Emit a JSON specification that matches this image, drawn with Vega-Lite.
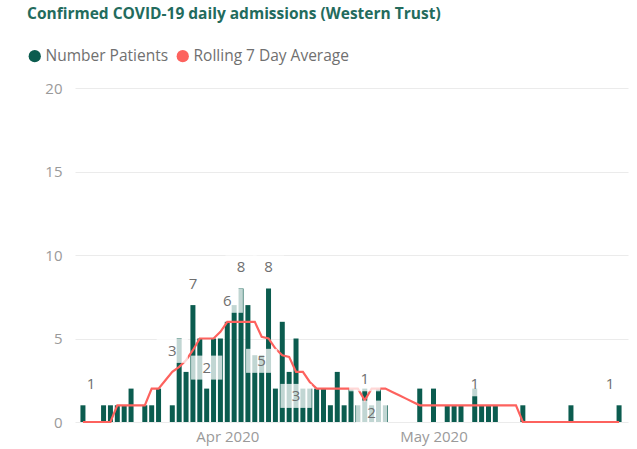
{
  "$schema": "https://vega.github.io/schema/vega-lite/v6.json",
  "width": 553,
  "height": 334,
  "autosize": {"type": "none"},
  "padding": {"left": 75, "top": 88, "right": 9, "bottom": 27},
  "background": "white",
  "config": {"view": {"stroke": null}, "font": "Open Sans"},
  "title": {
    "text": "Confirmed COVID-19 daily admissions (Western Trust)",
    "anchor": "start",
    "frame": "group",
    "dx": -48,
    "offset": 26,
    "font": "Open Sans",
    "fontSize": 15.5,
    "fontWeight": "bold",
    "color": "#236b5d"
  },
  "datasets": {
    "bars": [
      {"date": "2020-03-11", "patients": 1},
      {"date": "2020-03-14", "patients": 1},
      {"date": "2020-03-15", "patients": 1},
      {"date": "2020-03-16", "patients": 1},
      {"date": "2020-03-17", "patients": 1},
      {"date": "2020-03-18", "patients": 2},
      {"date": "2020-03-20", "patients": 1},
      {"date": "2020-03-21", "patients": 1},
      {"date": "2020-03-22", "patients": 2},
      {"date": "2020-03-24", "patients": 1},
      {"date": "2020-03-25", "patients": 5},
      {"date": "2020-03-26", "patients": 3},
      {"date": "2020-03-27", "patients": 7},
      {"date": "2020-03-28", "patients": 5},
      {"date": "2020-03-29", "patients": 2},
      {"date": "2020-03-30", "patients": 5},
      {"date": "2020-03-31", "patients": 5},
      {"date": "2020-04-01", "patients": 6},
      {"date": "2020-04-02", "patients": 7},
      {"date": "2020-04-03", "patients": 8},
      {"date": "2020-04-04", "patients": 7},
      {"date": "2020-04-05", "patients": 4},
      {"date": "2020-04-06", "patients": 4},
      {"date": "2020-04-07", "patients": 8},
      {"date": "2020-04-08", "patients": 2},
      {"date": "2020-04-09", "patients": 6},
      {"date": "2020-04-10", "patients": 3},
      {"date": "2020-04-11", "patients": 5},
      {"date": "2020-04-12", "patients": 2},
      {"date": "2020-04-13", "patients": 2},
      {"date": "2020-04-14", "patients": 2},
      {"date": "2020-04-15", "patients": 2},
      {"date": "2020-04-16", "patients": 1},
      {"date": "2020-04-17", "patients": 3},
      {"date": "2020-04-18", "patients": 1},
      {"date": "2020-04-19", "patients": 2},
      {"date": "2020-04-20", "patients": 1},
      {"date": "2020-04-21", "patients": 2},
      {"date": "2020-04-22", "patients": 1},
      {"date": "2020-04-23", "patients": 2},
      {"date": "2020-04-24", "patients": 1},
      {"date": "2020-04-29", "patients": 2},
      {"date": "2020-05-01", "patients": 2},
      {"date": "2020-05-03", "patients": 1},
      {"date": "2020-05-04", "patients": 1},
      {"date": "2020-05-05", "patients": 1},
      {"date": "2020-05-07", "patients": 2},
      {"date": "2020-05-08", "patients": 1},
      {"date": "2020-05-09", "patients": 1},
      {"date": "2020-05-10", "patients": 1},
      {"date": "2020-05-14", "patients": 1},
      {"date": "2020-05-21", "patients": 1},
      {"date": "2020-05-28", "patients": 1}
    ],
    "avg": [
      {"date": "2020-03-11", "avg": 0}, {"date": "2020-03-12", "avg": 0}, {"date": "2020-03-13", "avg": 0},
      {"date": "2020-03-14", "avg": 0}, {"date": "2020-03-15", "avg": 0}, {"date": "2020-03-16", "avg": 1},
      {"date": "2020-03-17", "avg": 1}, {"date": "2020-03-18", "avg": 1}, {"date": "2020-03-19", "avg": 1},
      {"date": "2020-03-20", "avg": 1}, {"date": "2020-03-21", "avg": 2}, {"date": "2020-03-22", "avg": 2},
      {"date": "2020-03-23", "avg": 2.5}, {"date": "2020-03-24", "avg": 3}, {"date": "2020-03-25", "avg": 3.3},
      {"date": "2020-03-26", "avg": 3.7}, {"date": "2020-03-27", "avg": 4.3}, {"date": "2020-03-28", "avg": 5},
      {"date": "2020-03-29", "avg": 5}, {"date": "2020-03-30", "avg": 5}, {"date": "2020-03-31", "avg": 5.4},
      {"date": "2020-04-01", "avg": 6}, {"date": "2020-04-02", "avg": 6}, {"date": "2020-04-03", "avg": 6},
      {"date": "2020-04-04", "avg": 6}, {"date": "2020-04-05", "avg": 6}, {"date": "2020-04-06", "avg": 5.1},
      {"date": "2020-04-07", "avg": 5}, {"date": "2020-04-08", "avg": 4.4}, {"date": "2020-04-09", "avg": 4},
      {"date": "2020-04-10", "avg": 3.9}, {"date": "2020-04-11", "avg": 3}, {"date": "2020-04-12", "avg": 3},
      {"date": "2020-04-13", "avg": 2.4}, {"date": "2020-04-14", "avg": 2}, {"date": "2020-04-15", "avg": 2},
      {"date": "2020-04-16", "avg": 2}, {"date": "2020-04-17", "avg": 2}, {"date": "2020-04-18", "avg": 2},
      {"date": "2020-04-19", "avg": 2}, {"date": "2020-04-20", "avg": 2}, {"date": "2020-04-21", "avg": 1.3},
      {"date": "2020-04-22", "avg": 2}, {"date": "2020-04-23", "avg": 2}, {"date": "2020-04-24", "avg": 2},
      {"date": "2020-04-25", "avg": 1.8}, {"date": "2020-04-26", "avg": 1.6}, {"date": "2020-04-27", "avg": 1.4},
      {"date": "2020-04-28", "avg": 1.2}, {"date": "2020-04-29", "avg": 1}, {"date": "2020-04-30", "avg": 1},
      {"date": "2020-05-01", "avg": 1}, {"date": "2020-05-02", "avg": 1}, {"date": "2020-05-03", "avg": 1},
      {"date": "2020-05-04", "avg": 1}, {"date": "2020-05-05", "avg": 1}, {"date": "2020-05-06", "avg": 1},
      {"date": "2020-05-07", "avg": 1}, {"date": "2020-05-08", "avg": 1}, {"date": "2020-05-09", "avg": 1},
      {"date": "2020-05-10", "avg": 1}, {"date": "2020-05-11", "avg": 1}, {"date": "2020-05-12", "avg": 1},
      {"date": "2020-05-13", "avg": 1}, {"date": "2020-05-14", "avg": 0}, {"date": "2020-05-15", "avg": 0},
      {"date": "2020-05-16", "avg": 0}, {"date": "2020-05-17", "avg": 0}, {"date": "2020-05-18", "avg": 0},
      {"date": "2020-05-19", "avg": 0}, {"date": "2020-05-20", "avg": 0}, {"date": "2020-05-21", "avg": 0},
      {"date": "2020-05-22", "avg": 0}, {"date": "2020-05-23", "avg": 0}, {"date": "2020-05-24", "avg": 0},
      {"date": "2020-05-25", "avg": 0}, {"date": "2020-05-26", "avg": 0}, {"date": "2020-05-27", "avg": 0},
      {"date": "2020-05-28", "avg": 0}
    ],
    "labels": [
      {"date": "2020-03-11", "value": 1, "label": "1", "place": "above-left"},
      {"date": "2020-03-24", "value": 3, "label": "3", "place": "above"},
      {"date": "2020-03-27", "value": 7, "label": "7", "place": "above"},
      {"date": "2020-03-29", "value": 2, "label": "2", "place": "above"},
      {"date": "2020-04-01", "value": 6, "label": "6", "place": "above"},
      {"date": "2020-04-03", "value": 8, "label": "8", "place": "above"},
      {"date": "2020-04-07", "value": 8, "label": "8", "place": "above"},
      {"date": "2020-04-06", "value": 5.1, "label": "5", "place": "below"},
      {"date": "2020-04-11", "value": 3, "label": "3", "place": "below"},
      {"date": "2020-04-21", "value": 1.3, "label": "1", "place": "above"},
      {"date": "2020-04-22", "value": 2, "label": "2", "place": "below"},
      {"date": "2020-05-07", "value": 1, "label": "1", "place": "above"},
      {"date": "2020-05-28", "value": 1, "label": "1", "place": "above-right"}
    ]
  },
  "encoding": {
    "x": {
      "field": "date",
      "type": "temporal",
      "scale": {
        "type": "utc",
        "nice": false,
        "domain": [1583847780000, 1590673380000]
      },
      "axis": {
        "title": null,
        "values": [1585699200000, 1588291200000],
        "labelExpr": "utcFormat(datum.value, '%b %Y')",
        "domain": false,
        "ticks": false,
        "grid": false,
        "labelFont": "Open Sans",
        "labelFontSize": 15,
        "labelColor": "#9a9a9a",
        "labelPadding": 7
      }
    }
  },
  "layer": [
    {
      "data": {"name": "bars"},
      "mark": {"type": "bar", "width": 5},
      "encoding": {
        "y": {
          "field": "patients",
          "type": "quantitative",
          "scale": {"domain": [0, 20]},
          "axis": {
            "title": null,
            "values": [0, 5, 10, 15, 20],
            "domain": false,
            "ticks": false,
            "gridColor": "#ebebeb",
            "gridWidth": 1,
            "labelFont": "Open Sans",
            "labelFontSize": 15,
            "labelColor": "#9a9a9a",
            "labelPadding": 13
          }
        },
        "color": {
          "datum": "Number Patients",
          "type": "nominal",
          "scale": {
            "domain": ["Number Patients", "Rolling 7 Day Average"],
            "range": ["#0b5c4f", "#fd625e"]
          },
          "legend": {
            "title": null,
            "orient": "none",
            "legendX": -48,
            "legendY": -40,
            "direction": "horizontal",
            "symbolType": "circle",
            "symbolSize": 150,
            "symbolStrokeWidth": 0,
            "labelFont": "Open Sans",
            "labelFontSize": 15.5,
            "labelColor": "#707070",
            "labelOffset": 3,
            "columnPadding": 6
          }
        }
      }
    },
    {
      "data": {"name": "avg"},
      "mark": {"type": "line", "color": "#fd625e", "strokeWidth": 2.2},
      "encoding": {
        "y": {"field": "avg", "type": "quantitative"}
      }
    },
    {
      "data": {"name": "labels"},
      "transform": [{"filter": "datum.place === 'above'"}],
      "mark": {"type": "point", "shape": "M-1.3,-1H1.3V1H-1.3Z", "filled": true, "color": "white", "opacity": 0.75, "size": 576, "yOffset": -21, "strokeWidth": 0},
      "encoding": {"y": {"field": "value", "type": "quantitative"}}
    },
    {
      "data": {"name": "labels"},
      "transform": [{"filter": "datum.place === 'below'"}],
      "mark": {"type": "point", "shape": "M-1.3,-1H1.3V1H-1.3Z", "filled": true, "color": "white", "opacity": 0.75, "size": 576, "yOffset": 24, "strokeWidth": 0},
      "encoding": {"y": {"field": "value", "type": "quantitative"}}
    },
    {
      "data": {"name": "labels"},
      "transform": [{"filter": "datum.place === 'above'"}],
      "mark": {"type": "text", "font": "Open Sans", "fontSize": 15, "color": "#6f6f6f", "baseline": "middle", "dy": -21},
      "encoding": {"y": {"field": "value", "type": "quantitative"}, "text": {"field": "label"}}
    },
    {
      "data": {"name": "labels"},
      "transform": [{"filter": "datum.place === 'below'"}],
      "mark": {"type": "text", "font": "Open Sans", "fontSize": 15, "color": "#6f6f6f", "baseline": "middle", "dy": 24},
      "encoding": {"y": {"field": "value", "type": "quantitative"}, "text": {"field": "label"}}
    },
    {
      "data": {"name": "labels"},
      "transform": [{"filter": "datum.place === 'above-left'"}],
      "mark": {"type": "text", "font": "Open Sans", "fontSize": 15, "color": "#6f6f6f", "baseline": "middle", "dy": -21, "dx": 8},
      "encoding": {"y": {"field": "value", "type": "quantitative"}, "text": {"field": "label"}}
    },
    {
      "data": {"name": "labels"},
      "transform": [{"filter": "datum.place === 'above-right'"}],
      "mark": {"type": "text", "font": "Open Sans", "fontSize": 15, "color": "#6f6f6f", "baseline": "middle", "dy": -21, "dx": -9},
      "encoding": {"y": {"field": "value", "type": "quantitative"}, "text": {"field": "label"}}
    }
  ]
}
